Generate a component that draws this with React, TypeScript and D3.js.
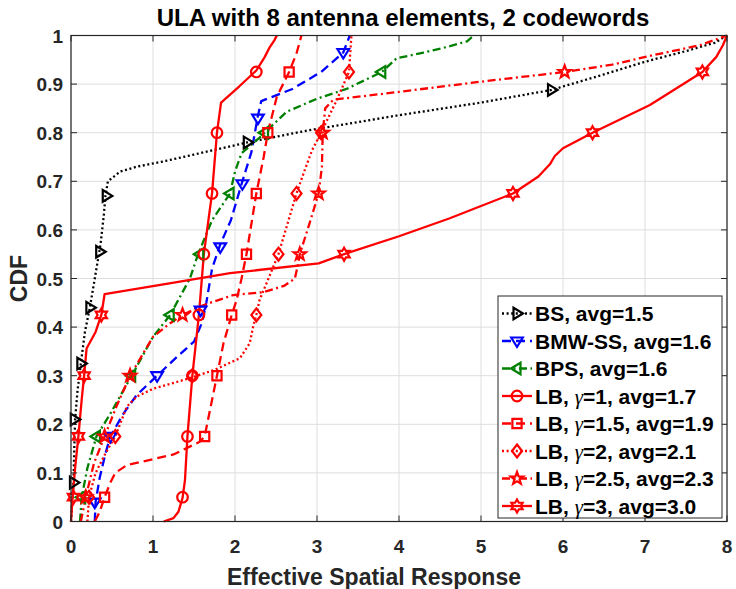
import * as d3 from "d3";

type Pt = [number, number];

// ---- axis ticks ----
const xTickValues = [0, 1, 2, 3, 4, 5, 6, 7, 8];
const yTickValues = [0, 0.1, 0.2, 0.3, 0.4, 0.5, 0.6, 0.7, 0.8, 0.9, 1];
const yTickLabels = ["0", "0.1", "0.2", "0.3", "0.4", "0.5", "0.6", "0.7", "0.8", "0.9", "1"];

const titleText = "ULA with 8 antenna elements, 2 codewords";
const xLabel = "Effective Spatial Response";
const yLabel = "CDF";

// ---- CDF curves (x = response, y = CDF) ----
const bsCdf: Pt[] = [
	[0, 0], [0.01, 0.03], [0.03, 0.08], [0.04, 0.15], [0.05, 0.21], [0.08, 0.27], [0.12, 0.325],
	[0.17, 0.39], [0.23, 0.44], [0.28, 0.49], [0.32, 0.53], [0.36, 0.57], [0.4, 0.63], [0.42, 0.67],
	[0.45, 0.7], [0.6, 0.72], [0.8, 0.73], [1.1, 0.74], [1.5, 0.755], [2.15, 0.78], [2.9, 0.805],
	[4.0, 0.836], [5.0, 0.862], [5.86, 0.888], [6.5, 0.92], [7.0, 0.946], [7.5, 0.968], [7.85, 0.985], [8, 1],
];
const bsMarks: Pt[] = [
	[0.03, 0.08], [0.04, 0.21], [0.12, 0.325], [0.23, 0.44], [0.35, 0.555], [0.43, 0.67], [2.15, 0.78], [5.86, 0.888],
];

const bmwCdf: Pt[] = [
	[0.29, 0], [0.3, 0.04], [0.35, 0.09], [0.42, 0.14], [0.48, 0.175], [0.64, 0.222], [0.8, 0.26],
	[1.05, 0.3], [1.3, 0.34], [1.5, 0.37], [1.6, 0.41], [1.65, 0.45], [1.72, 0.52], [1.82, 0.57],
	[1.95, 0.62], [2.09, 0.7], [2.2, 0.76], [2.28, 0.835], [2.32, 0.865], [2.7, 0.89], [3.05, 0.925],
	[3.32, 0.965], [3.4, 1.0],
];
const bmwMarks: Pt[] = [
	[0.29, 0.04], [0.48, 0.175], [1.05, 0.3], [1.58, 0.435], [1.82, 0.565], [2.09, 0.695], [2.28, 0.83], [3.32, 0.965],
];

const bpsCdf: Pt[] = [
	[0.11, 0], [0.13, 0.05], [0.2, 0.11], [0.31, 0.175], [0.48, 0.222], [0.74, 0.3], [1.0, 0.38],
	[1.21, 0.425], [1.45, 0.5], [1.55, 0.55], [1.72, 0.62], [1.94, 0.675], [2.0, 0.72], [2.08, 0.758],
	[2.3, 0.79], [2.63, 0.843], [3.0, 0.87], [3.36, 0.89], [3.79, 0.925], [3.97, 0.953], [4.3, 0.965],
	[4.6, 0.977], [4.83, 0.988], [4.91, 1.0],
];
const bpsMarks: Pt[] = [
	[0.13, 0.05], [0.31, 0.175], [0.74, 0.3], [1.21, 0.425], [1.57, 0.55], [1.94, 0.675], [2.36, 0.8], [3.79, 0.925],
];

const lb1Cdf: Pt[] = [
	[1.13, 0], [1.25, 0.007], [1.31, 0.02], [1.36, 0.048], [1.39, 0.085], [1.42, 0.175], [1.48, 0.3],
	[1.56, 0.425], [1.62, 0.55], [1.72, 0.675], [1.78, 0.8], [1.83, 0.862], [2.05, 0.895], [2.26, 0.928],
	[2.36, 0.955], [2.42, 0.975], [2.48, 0.99], [2.51, 1.0],
];
const lb1Marks: Pt[] = [
	[1.36, 0.05], [1.42, 0.175], [1.48, 0.3], [1.56, 0.425], [1.62, 0.55], [1.72, 0.675], [1.78, 0.8], [2.26, 0.925],
];

const lb15Cdf: Pt[] = [
	[0.29, 0], [0.35, 0.02], [0.41, 0.05], [0.48, 0.08], [0.54, 0.1], [0.68, 0.116], [0.84, 0.122],
	[1.25, 0.138], [1.57, 0.164], [1.63, 0.175], [1.72, 0.25], [1.78, 0.3], [1.86, 0.367], [1.96, 0.425],
	[2.02, 0.456], [2.08, 0.5], [2.14, 0.55], [2.26, 0.675], [2.35, 0.75], [2.4, 0.8], [2.51, 0.874],
	[2.66, 0.925], [2.75, 0.963], [2.81, 1.0],
];
const lb15Marks: Pt[] = [
	[0.41, 0.05], [1.63, 0.175], [1.78, 0.3], [1.96, 0.425], [2.14, 0.55], [2.26, 0.675], [2.4, 0.8], [2.66, 0.925],
];

const lb2Cdf: Pt[] = [
	[0.2, 0], [0.22, 0.05], [0.3, 0.1], [0.42, 0.14], [0.54, 0.175], [0.68, 0.236], [0.8, 0.257],
	[1.0, 0.273], [1.45, 0.295], [1.75, 0.312], [2.06, 0.336], [2.18, 0.367], [2.22, 0.4], [2.26, 0.425],
	[2.3, 0.456], [2.35, 0.476], [2.53, 0.55], [2.63, 0.607], [2.75, 0.675], [2.85, 0.723], [2.94, 0.764],
	[3.05, 0.8], [3.24, 0.867], [3.39, 0.925], [3.42, 1.0],
];
const lb2Marks: Pt[] = [
	[0.22, 0.05], [0.54, 0.175], [1.48, 0.3], [2.26, 0.425], [2.53, 0.55], [2.75, 0.675], [3.05, 0.8], [3.39, 0.925],
];

const lb25Cdf: Pt[] = [
	[0.12, 0], [0.18, 0.05], [0.28, 0.12], [0.41, 0.175], [0.55, 0.235], [0.72, 0.3], [0.86, 0.34],
	[1.0, 0.38], [1.21, 0.408], [1.36, 0.425], [1.61, 0.445], [1.98, 0.466], [2.35, 0.472], [2.6, 0.485],
	[2.73, 0.5], [2.77, 0.53], [2.79, 0.55], [2.91, 0.614], [3.02, 0.675], [3.06, 0.73], [3.07, 0.8],
	[3.1, 0.85], [3.2, 0.868], [4.0, 0.884], [5.0, 0.905], [6.02, 0.925], [6.6, 0.94], [7.06, 0.958],
	[7.67, 0.98], [8, 1.0],
];
const lb25Marks: Pt[] = [
	[0.18, 0.05], [0.41, 0.175], [0.72, 0.3], [1.36, 0.425], [2.79, 0.55], [3.02, 0.675], [3.07, 0.8], [6.02, 0.925],
];

const lb3Cdf: Pt[] = [
	[0, 0], [0.02, 0.05], [0.05, 0.11], [0.09, 0.175], [0.13, 0.25], [0.16, 0.3], [0.19, 0.356],
	[0.3, 0.39], [0.37, 0.425], [0.41, 0.468], [1.2, 0.49], [1.94, 0.511], [3.02, 0.531], [3.33, 0.55],
	[4.0, 0.587], [4.62, 0.624], [5.39, 0.675], [5.7, 0.71], [5.84, 0.735], [5.9, 0.752], [6.0, 0.768],
	[6.36, 0.8], [7.06, 0.857], [7.7, 0.925], [7.87, 0.956], [7.95, 0.98], [8.0, 1.0],
];
const lb3Marks: Pt[] = [
	[0.03, 0.05], [0.09, 0.175], [0.16, 0.3], [0.37, 0.425], [3.33, 0.55], [5.39, 0.675], [6.36, 0.8], [7.7, 0.925],
];

const legendLabels = [
	"BS, avg=1.5",
	"BMW-SS, avg=1.6",
	"BPS, avg=1.6",
	"LB, γ=1, avg=1.7",
	"LB, γ=1.5, avg=1.9",
	"LB, γ=2, avg=2.1",
	"LB, γ=2.5, avg=2.3",
	"LB, γ=3, avg=3.0",
];

type Marker = "right" | "down" | "left" | "circle" | "square" | "diamond" | "star5" | "star6";

const RED = "#ff0000";
const DOT = "2,2.6";
const DASH = "9,5";
const DASHDOT = "8,3.5,2,3.5";

const series = [
	{ line: bsCdf, marks: bsMarks, color: "#000000", dash: DOT, marker: "right" as Marker },
	{ line: bmwCdf, marks: bmwMarks, color: "#0000ff", dash: DASH, marker: "down" as Marker },
	{ line: bpsCdf, marks: bpsMarks, color: "#008000", dash: DASHDOT, marker: "left" as Marker },
	{ line: lb1Cdf, marks: lb1Marks, color: RED, dash: "none", marker: "circle" as Marker },
	{ line: lb15Cdf, marks: lb15Marks, color: RED, dash: DASH, marker: "square" as Marker },
	{ line: lb2Cdf, marks: lb2Marks, color: RED, dash: DOT, marker: "diamond" as Marker },
	{ line: lb25Cdf, marks: lb25Marks, color: RED, dash: DASHDOT, marker: "star5" as Marker },
	{ line: lb3Cdf, marks: lb3Marks, color: RED, dash: "none", marker: "star6" as Marker },
];

function starPath(points: number, outer: number, inner: number) {
	const pts: string[] = [];
	for (let i = 0; i < points * 2; i++) {
		const r = i % 2 === 0 ? outer : inner;
		const a = (Math.PI * i) / points - Math.PI / 2;
		pts.push(`${(r * Math.cos(a)).toFixed(2)},${(r * Math.sin(a)).toFixed(2)}`);
	}
	return `M${pts.join("L")}Z`;
}

function markerPath(m: Marker) {
	switch (m) {
		case "right":
			return "M6,0L-3.5,-5.8L-3.5,5.8Z";
		case "left":
			return "M-6,0L3.5,-5.8L3.5,5.8Z";
		case "down":
			return "M0,6L-5.8,-3.5L5.8,-3.5Z";
		case "square":
			return "M-4.6,-4.6L4.6,-4.6L4.6,4.6L-4.6,4.6Z";
		case "diamond":
			return "M0,-6.5L5,0L0,6.5L-5,0Z";
		case "star5":
			return starPath(5, 6.5, 2.7);
		case "star6":
			return starPath(6, 6.5, 3.75);
		default:
			return d3.symbol(d3.symbolCircle, 80)() as string;
	}
}

function MarkerShape({ m, x, y, color }: { m: Marker; x: number; y: number; color: string }) {
	if (m === "circle") {
		return <circle cx={x} cy={y} r={5.3} fill="none" stroke={color} strokeWidth={2.2} />;
	}
	return (
		<path
			d={markerPath(m)}
			transform={`translate(${x},${y})`}
			fill="none"
			stroke={color}
			strokeWidth={2.2}
			strokeLinejoin="miter"
		/>
	);
}

export default function App() {
	const width = 736;
	const height = 589;
	const margin = { top: 35.5, right: 9, bottom: 67.5, left: 71 };
	const innerW = width - margin.left - margin.right;
	const innerH = height - margin.top - margin.bottom;

	const x = d3.scaleLinear().domain([0, 8]).range([0, innerW]);
	const y = d3.scaleLinear().domain([0, 1]).range([innerH, 0]);

	const line = d3
		.line<Pt>()
		.x((d) => x(d[0]))
		.y((d) => y(d[1]));

	const font = "'Liberation Sans', Arial, Helvetica, sans-serif";
	const tickLen = 6;

	// legend geometry
	const lg = { x: 498 - margin.left, y: 296 - margin.top, w: 224, h: 222, row: 27.5 };

	return (
		<svg
			width={width}
			height={height}
			style={{ position: "absolute", left: 0, top: 0, background: "#fff" }}
			fontFamily={font}
		>
			<rect width={width} height={height} fill="#fff" />
			<text
				x={403}
				y={26}
				textAnchor="middle"
				fontSize={24}
				fontWeight="bold"
				fill="#000"
			>
				{titleText}
			</text>
			<g transform={`translate(${margin.left},${margin.top})`}>
				{/* grid */}
				{xTickValues.map((t) => (
					<line key={`gx${t}`} x1={x(t)} x2={x(t)} y1={0} y2={innerH} stroke="#dedede" strokeWidth={1} />
				))}
				{yTickValues.map((t) => (
					<line key={`gy${t}`} x1={0} x2={innerW} y1={y(t)} y2={y(t)} stroke="#dedede" strokeWidth={1} />
				))}

				{/* curves */}
				{series.map((s, i) => (
					<path
						key={`l${i}`}
						d={line(s.line) as string}
						fill="none"
						stroke={s.color}
						strokeWidth={2.3}
						strokeDasharray={s.dash}
						strokeLinejoin="round"
					/>
				))}
				{series.map((s, i) => (
					<g key={`m${i}`}>
						{s.marks.map((p, j) => (
							<MarkerShape key={j} m={s.marker} x={x(p[0])} y={y(p[1])} color={s.color} />
						))}
					</g>
				))}

				{/* box + ticks */}
				<rect x={0} y={0} width={innerW} height={innerH} fill="none" stroke="#262626" strokeWidth={1.2} />
				{xTickValues.map((t) => (
					<g key={`tx${t}`}>
						<line x1={x(t)} x2={x(t)} y1={innerH} y2={innerH - tickLen} stroke="#262626" />
						<line x1={x(t)} x2={x(t)} y1={0} y2={tickLen} stroke="#262626" />
						<text
							x={x(t)}
							y={innerH + 31}
							textAnchor="middle"
							fontSize={19}
							fontWeight="bold"
							fill="#262626"
						>
							{t}
						</text>
					</g>
				))}
				{yTickValues.map((t, i) => (
					<g key={`ty${t}`}>
						<line x1={0} x2={tickLen} y1={y(t)} y2={y(t)} stroke="#262626" />
						<line x1={innerW} x2={innerW - tickLen} y1={y(t)} y2={y(t)} stroke="#262626" />
						<text
							x={-8}
							y={y(t) + 7}
							textAnchor="end"
							fontSize={19}
							fontWeight="bold"
							fill="#262626"
						>
							{yTickLabels[i]}
						</text>
					</g>
				))}

				{/* legend */}
				<g transform={`translate(${lg.x},${lg.y})`}>
					<rect width={lg.w} height={lg.h} fill="#fff" stroke="#262626" strokeWidth={1} />
					{series.map((s, i) => {
						const cy = 17.5 + i * lg.row;
						const parts = legendLabels[i].split("γ");
						return (
							<g key={`lg${i}`}>
								<line
									x1={4}
									x2={34}
									y1={cy}
									y2={cy}
									stroke={s.color}
									strokeWidth={2.3}
									strokeDasharray={s.dash}
								/>
								<MarkerShape m={s.marker} x={19} y={cy} color={s.color} />
								<text x={37} y={cy + 7.5} fontSize={21} fontWeight="bold" fill="#000">
									{parts[0]}
									{parts.length > 1 && (
										<tspan fontFamily="'Liberation Serif', serif" fontStyle="italic" fontWeight="normal">
											γ
										</tspan>
									)}
									{parts.length > 1 && parts[1]}
								</text>
							</g>
						);
					})}
				</g>
			</g>

			{/* axis labels */}
			<text
				x={374}
				y={585}
				textAnchor="middle"
				fontSize={23}
				fontWeight="bold"
				fill="#262626"
			>
				{xLabel}
			</text>
			<text
				transform={`translate(27,${margin.top + innerH / 2}) rotate(-90)`}
				textAnchor="middle"
				fontSize={23}
				fontWeight="bold"
				fill="#262626"
			>
				{yLabel}
			</text>
		</svg>
	);
}
